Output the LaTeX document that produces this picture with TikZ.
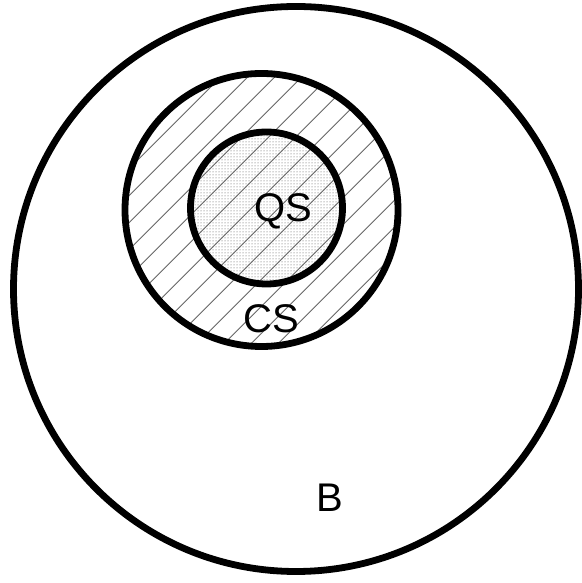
\documentclass[tikz,border=0pt]{standalone}
\usepackage{fontspec}
\setmainfont{Liberation Sans}
\usetikzlibrary{patterns}
\begin{document}
\begin{tikzpicture}[x=1pt,y=1pt,
  ring/.style={draw=black,line width=6.8pt},
  hatch/.style={draw=black!60,line width=0.9pt},
  lbl/.style={font=\fontsize{40}{44}\selectfont,anchor=base,inner sep=0pt}]
\useasboundingbox (0,0) rectangle (581,583);
% stippled inner region
\fill[pattern=dots,pattern color=black!70] (266.5,375) circle (76);
% hatching clipped to the middle circle
\begin{scope}
  \clip (261.5,373) circle (136.5);
  \foreach \k in {-20,...,20}{
    \draw[hatch] (0,{-\k*27+258.3}) -- (581,{-\k*27+258.3+581});
  }
\end{scope}
\draw[ring] (296,294) circle (282.5);
\draw[ring] (261.5,373) circle (136.5);
\draw[ring] (266.5,375) circle (76);
\node[lbl] (qs) at (283.5,361) {QS};
\node[lbl] (cs) at (271.5,250) {CS};
\node[lbl] (b) at (330,71) {B};
\end{tikzpicture}
\end{document}
